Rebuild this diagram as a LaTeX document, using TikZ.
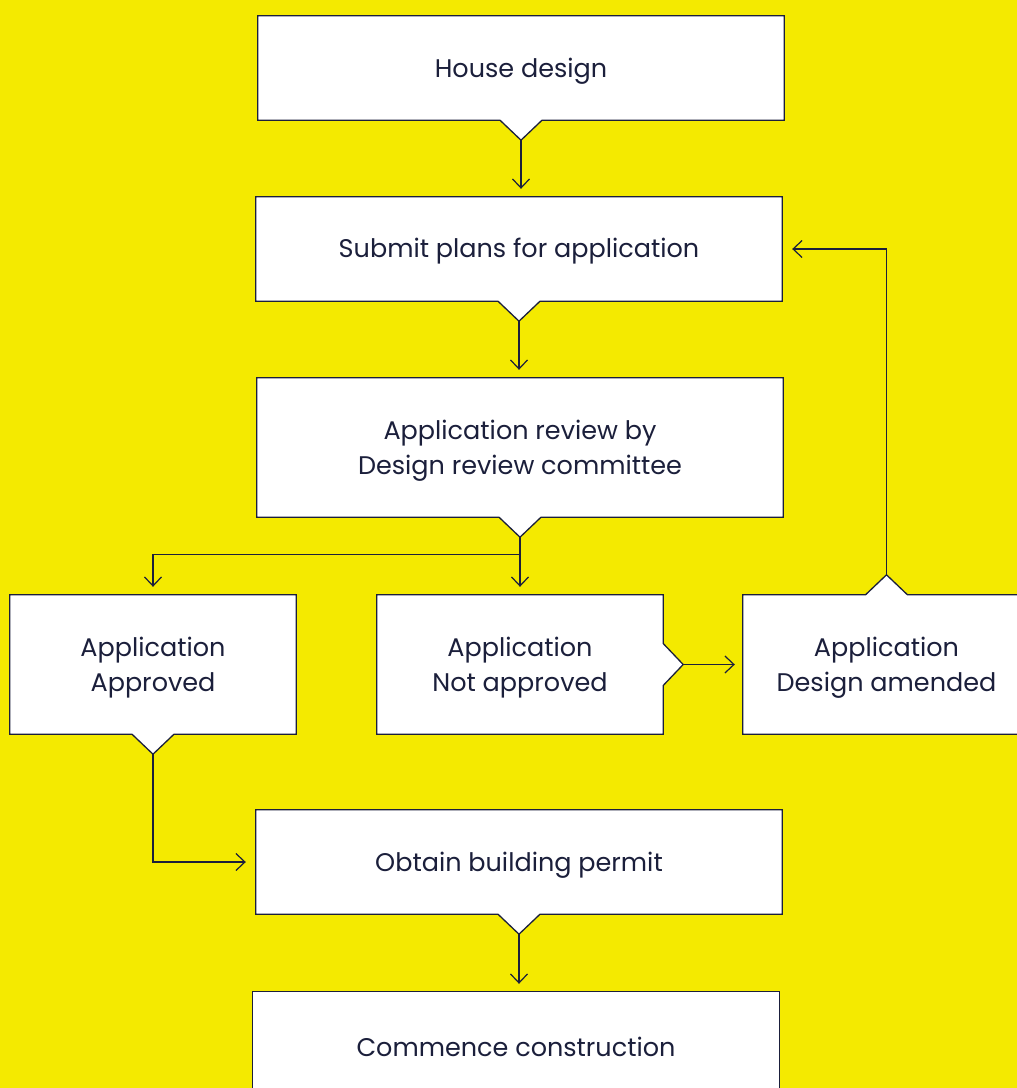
\documentclass[tikz,border=0pt]{standalone}
\usepackage{fontspec}
\setmainfont{Poppins}
\usetikzlibrary{arrows.meta,calc,backgrounds}
\definecolor{bg}{HTML}{F4EA00}
\definecolor{ink}{HTML}{1B1F3B}
\begin{document}
\begin{tikzpicture}[x=1pt,y=-1pt,
  box/.style={draw=none, inner sep=0pt, align=center, text=ink,
    font=\fontsize{25.5}{34.5}\selectfont},
  wide/.style={minimum width=526pt, minimum height=104pt},
  tall/.style={minimum width=286pt, minimum height=139pt},
  outline/.style={draw=ink, fill=white, line width=1.3pt, line join=miter},
  conn/.style={draw=ink, line width=1.2pt, shorten >=8pt,
    -{Straight Barb[length=9pt,width=17pt,line width=1.2pt]}},
  lbl/.style={text=ink, inner sep=0pt, align=center,
    font=\fontsize{25.5}{34.5}\selectfont}]
\useasboundingbox (0,0) rectangle (1017,1088);
\node[box,wide] (b1) at (521,68) {};
\node[box,wide] (b2) at (519,249) {};
\node[box,wide,minimum height=139pt] (b3) at (520,447.5) {};
\node[box,tall] (b4) at (153,664.5) {};
\node[box,tall] (b5) at (520,664.5) {};
\node[box,tall,minimum width=287pt] (b6) at (886.5,664.5) {};
\node[box,wide] (b7) at (519,862) {};
\node[box,wide,minimum height=108pt] (b8) at (516,1046) {};
\node[lbl] (l1) at ($(b1.center)+(0,3)$) {House design};
\node[lbl] (l2) at ($(b2.center)+(0,2)$) {Submit plans for application};
\node[lbl] (l3) at ($(b3.center)+(0,3)$) {Application review by\\Design review committee};
\node[lbl] (l4) at ($(b4.center)+(0,3)$) {Application\\Approved};
\node[lbl] (l5) at ($(b5.center)+(0,3)$) {Application\\Not approved};
\node[lbl] (l6) at ($(b6.center)+(0,3)$) {Application\\Design amended};
\node[lbl] (l7) at ($(b7.center)+(0,3)$) {Obtain building permit};
\node[lbl] (l8) at ($(b8.center)+(0,1)$) {Commence construction};
\coordinate (t1) at ($(b1.south)+(0,20)$);
\coordinate (t2) at ($(b2.south)+(0,20)$);
\coordinate (t3) at ($(b3.south)+(0,20)$);
\coordinate (t4) at ($(b4.south)+(0,20)$);
\coordinate (t5) at ($(b5.east)+(20,0)$);
\coordinate (t6) at ($(b6.north)+(0,-20)$);
\coordinate (t7) at ($(b7.south)+(0,20)$);
\coordinate (j) at ($(t3)+(0,17)$);
\begin{pgfonlayer}{background}
\fill[bg] (0,0) rectangle (1017,1088);
\foreach \b/\t in {b1/t1,b2/t2,b3/t3,b4/t4,b7/t7}{
  \draw[outline] (\b.north west) -- (\b.north east) -- (\b.south east)
    -- ($(\b.south)+(21,0)$) -- (\t) -- ($(\b.south)+(-21,0)$)
    -- (\b.south west) -- cycle;
}
\draw[outline] (b5.north west) -- (b5.north east) -- ($(b5.east)+(0,-21)$)
  -- (t5) -- ($(b5.east)+(0,21)$) -- (b5.south east) -- (b5.south west) -- cycle;
\draw[outline] (b6.north west) -- ($(b6.north)+(-21,0)$) -- (t6)
  -- ($(b6.north)+(21,0)$) -- (b6.north east) -- (b6.south east)
  -- (b6.south west) -- cycle;
\draw[outline] (b8.north west) rectangle (b8.south east);
\end{pgfonlayer}
\draw[conn] (t1) -- (t1 |- b2.north);
\draw[conn] (t2) -- (t2 |- b3.north);
\draw[conn] (t3) -- (t3 |- b5.north);
\draw[conn] (j) -| (b4.north);
\draw[conn] (t5) -- (b6.west);
\draw[conn,shorten >=10pt] (t6) |- (b2.east);
\draw[conn,shorten >=10pt] (t4) |- (b7.west);
\draw[conn] (t7) -- (t7 |- b8.north);
\end{tikzpicture}
\end{document}
